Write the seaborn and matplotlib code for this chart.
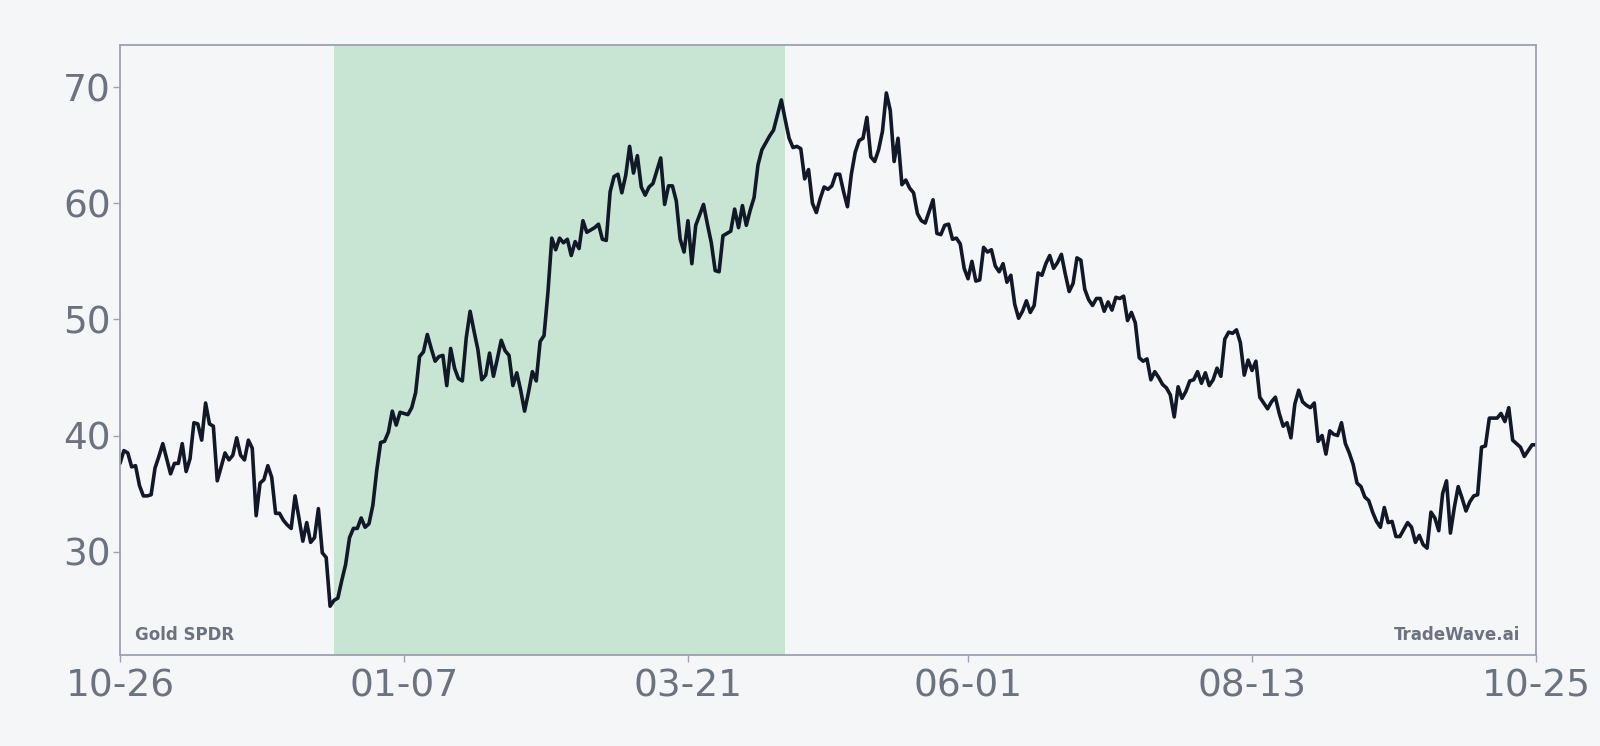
import pandas as pd
import matplotlib
matplotlib.use("Agg")
import matplotlib.pyplot as plt
import seaborn as sns

# daily closes, 10-26 .. 10-25 (365 days)
start_date = "2022-10-26"
prices = [
    37.6, 38.7, 38.5, 37.3, 37.4, 35.7, 34.8, 34.8, 34.9, 37.2,
    38.2, 39.3, 38.0, 36.7, 37.6, 37.6, 39.3, 36.9, 38.0, 41.1,
    41.0, 39.6, 42.8, 41.0, 40.8, 36.1, 37.3, 38.5, 37.9, 38.3,
    39.8, 38.3, 37.9, 39.6, 38.9, 33.1, 35.9, 36.2, 37.4, 36.4,
    33.3, 33.3, 32.7, 32.3, 32.0, 34.8, 32.9, 30.9, 32.5, 30.8,
    31.2, 33.7, 29.9, 29.5, 25.3, 25.8, 26.0, 27.5, 28.9, 31.2,
    32.0, 32.0, 32.9, 32.1, 32.4, 34.0, 37.0, 39.4, 39.5, 40.3,
    42.1, 40.9, 42.0, 41.9, 41.8, 42.4, 43.7, 46.8, 47.2, 48.7,
    47.5, 46.4, 46.8, 46.9, 44.3, 47.5, 45.8, 44.9, 44.7, 48.4,
    50.7, 49.0, 47.4, 44.8, 45.2, 47.1, 45.1, 46.6, 48.2, 47.3,
    46.9, 44.3, 45.4, 43.9, 42.1, 43.7, 45.5, 44.7, 48.1, 48.6,
    52.3, 57.0, 56.0, 57.0, 56.6, 56.9, 55.5, 56.7, 56.1, 58.5,
    57.5, 57.7, 57.9, 58.2, 56.9, 56.8, 61.0, 62.3, 62.5, 60.9,
    62.4, 64.9, 62.6, 64.1, 61.4, 60.7, 61.4, 61.7, 62.8, 63.9,
    59.9, 61.5, 61.5, 60.2, 56.9, 55.8, 58.5, 54.8, 58.1, 59.0,
    59.9, 58.2, 56.6, 54.2, 54.1, 57.2, 57.4, 57.6, 59.5, 57.9,
    59.8, 58.1, 59.4, 60.5, 63.3, 64.6, 65.2, 65.8, 66.3, 67.6,
    68.9, 67.2, 65.6, 64.8, 64.9, 64.7, 62.1, 62.9, 60.0, 59.2,
    60.4, 61.4, 61.2, 61.5, 62.5, 62.5, 61.0, 59.7, 62.5, 64.4,
    65.4, 65.6, 67.4, 64.0, 63.6, 64.6, 66.2, 69.5, 68.0, 63.6,
    65.6, 61.6, 62.0, 61.3, 60.9, 59.1, 58.5, 58.3, 59.3, 60.3,
    57.4, 57.3, 58.1, 58.2, 56.9, 57.0, 56.5, 54.4, 53.5, 55.0,
    53.3, 53.4, 56.2, 55.8, 56.0, 54.6, 54.1, 54.8, 53.2, 53.8,
    51.3, 50.1, 50.7, 51.6, 50.6, 51.2, 54.0, 53.8, 54.8, 55.5,
    54.4, 54.9, 55.6, 53.9, 52.4, 53.1, 55.3, 55.1, 52.6, 51.7,
    51.2, 51.8, 51.8, 50.7, 51.5, 50.8, 51.9, 51.8, 52.0, 49.9,
    50.6, 49.7, 46.7, 46.4, 46.6, 44.8, 45.5, 45.0, 44.4, 44.1,
    43.5, 41.6, 44.2, 43.2, 43.8, 44.7, 44.8, 45.5, 44.5, 45.4,
    44.3, 44.8, 45.8, 45.1, 48.3, 48.9, 48.8, 49.1, 48.0, 45.2,
    46.5, 45.6, 46.4, 43.3, 42.8, 42.3, 42.9, 43.3, 41.9, 40.8,
    41.1, 39.8, 42.7, 43.9, 42.9, 42.6, 42.4, 42.8, 39.5, 40.0,
    38.4, 40.4, 40.1, 40.0, 41.1, 39.3, 38.5, 37.5, 35.9, 35.6,
    34.7, 34.4, 33.4, 32.6, 32.1, 33.8, 32.5, 32.6, 31.3, 31.3,
    31.9, 32.5, 32.1, 30.8, 31.4, 30.6, 30.3, 33.4, 32.9, 31.8,
    35.0, 36.1, 31.6, 33.8, 35.6, 34.6, 33.5, 34.3, 34.8, 34.9,
    39.0, 39.1, 41.5, 41.5, 41.5, 41.9, 41.2, 42.4, 39.6, 39.3,
    39.0, 38.2, 38.7, 39.2, 39.2,
]
shade_start = "2022-12-20"
shade_end = "2023-04-15"
tick_idx = [0, 73, 146, 218, 291, 364]
y_ticks = [30, 40, 50, 60, 70]

bg = "#f4f6f8"
grey = "#6b7280"

sns.set_style("white", {"axes.facecolor": bg, "figure.facecolor": bg,
                        "axes.edgecolor": "#9ca0b0"})
plt.rcParams['font.family'] = ['DejaVu Sans']

df = pd.DataFrame({"date": pd.date_range(start_date, periods=len(prices), freq="D"),
                   "price": prices})

fig, ax = plt.subplots(figsize=(16, 7.46), dpi=100)
fig.subplots_adjust(left=0.075, right=0.96, bottom=0.122, top=0.94)

ax.axvspan(pd.Timestamp(shade_start), pd.Timestamp(shade_end), color="#c8e5d4", lw=0, zorder=0)
sns.lineplot(data=df, x="date", y="price", color="#111827", lw=2.6, ax=ax)

ax.set_xlim(df["date"].iloc[0], df["date"].iloc[-1])
ax.set_ylim(21.1, 73.65)
ax.set_xticks(df["date"].iloc[tick_idx])
ax.set_xticklabels(df["date"].iloc[tick_idx].dt.strftime("%m-%d"))
ax.set_yticks(y_ticks)
ax.set_xlabel("")
ax.set_ylabel("")
ax.tick_params(axis="both", labelsize=27, colors="#9ca0b0", labelcolor=grey,
               length=5, width=1, direction="out", bottom=True, left=True)
ax.tick_params(axis="x", pad=4.5)
ax.tick_params(axis="y", pad=1.6)
for s in ax.spines.values():
    s.set_linewidth(1.3)

ax.text(0.0106, 0.025, "Gold SPDR", transform=ax.transAxes, fontsize=12,
        fontweight="bold", color=grey, ha="left", va="baseline")
ax.text(0.989, 0.025, "TradeWave.ai", transform=ax.transAxes, fontsize=12,
        fontweight="bold", color=grey, ha="right", va="baseline")

fig.savefig("out.png", dpi=100, facecolor=bg)
